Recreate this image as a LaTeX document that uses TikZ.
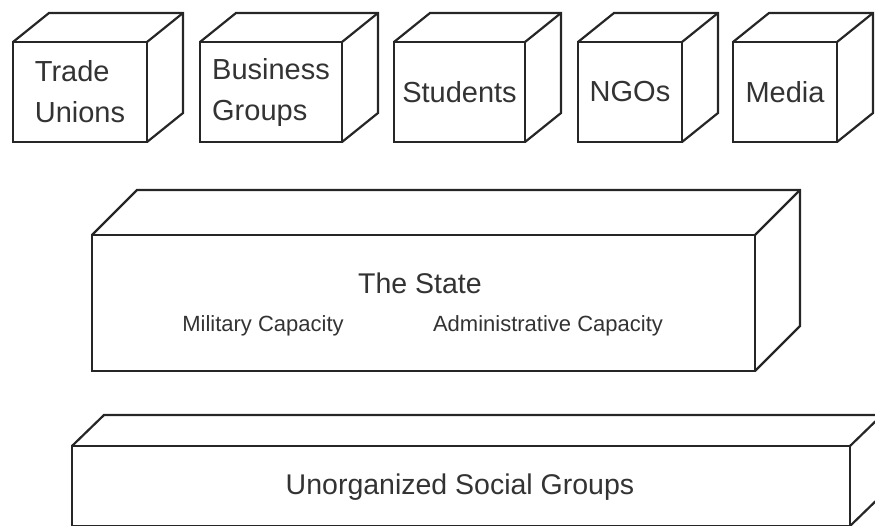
\documentclass[tikz,border=0pt]{standalone}
\usepackage{fontspec}
\setmainfont{Liberation Sans}
\usetikzlibrary{positioning}

% Draw the top and the side of a box behind its front face.
\newcommand{\boxdepth}[2]{%
    \draw[edge] (#1.north west) -- ([shift={#2}]#1.north west)
        -- ([shift={#2}]#1.north east) -- ([shift={#2}]#1.south east)
        -- (#1.south east);
    \draw[edge] (#1.north east) -- ([shift={#2}]#1.north east);
}

\begin{document}
\begin{tikzpicture}[%
        x = 1pt, y = -1pt,
        edge/.style = {line width = 2.2pt, black!85},
        front/.style = {%
            edge, draw, fill = white, anchor = north west,
            inner sep = 0pt, outer sep = 0pt
        },
        label/.style = {font = \fontsize{29}{41}\selectfont, align = left, text = black!80},
        biglabel/.style = {font = \fontsize{28.5}{34}\selectfont, text = black!80},
        smalllabel/.style = {font = \fontsize{22}{26}\selectfont, text = black!80}
    ]

        \clip (0,0) rectangle (875,525);

        % Front faces of the small boxes on top.
        \foreach \name/\x/\w/\txt in {%
            unions/13/134/{Trade\\Unions},
            business/200/142/{Business\\Groups},
            students/394/131/{Students},
            ngos/578/104/{NGOs},
            media/733/104/{Media}}{%
            \node[front, minimum width = \w pt, minimum height = 100pt] (\name) at (\x,42) {};
            \node[label] at (\name.center) {\txt};
            \boxdepth{\name}{(36,-29)}
        }

        % The state.
        \node[front, minimum width = 663pt, minimum height = 136pt] (state) at (92,235) {};
        \boxdepth{state}{(45,-45)}
        \node[biglabel] (statename) at (420,283) {The State};
        \node[smalllabel] (military) at (263,326) {Military Capacity};
        \node[smalllabel] (admin) at (548,326) {Administrative Capacity};

        % Unorganized groups at the bottom.
        \node[front, minimum width = 778pt, minimum height = 80pt] (social) at (72,446) {};
        \boxdepth{social}{(32,-31)}
        \node[biglabel] at (460,487) {Unorganized Social Groups};
    \end{tikzpicture}
\end{document}
